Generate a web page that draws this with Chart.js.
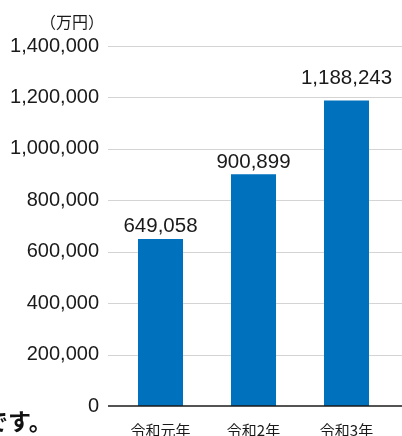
<!DOCTYPE html>
<html lang="ja">
<head>
<meta charset="utf-8">
<title>令和元年〜令和3年</title>
<script src="https://cdn.jsdelivr.net/npm/chart.js@4"></script>
<style>
    html, body { margin: 0; padding: 0; background: #fff; overflow: hidden; }
    #wrap { position: relative; width: 402px; height: 436px; }
    #unit {
        position: absolute; left: 40px; top: 9px;
        font: 16px "Noto Sans CJK JP", sans-serif; color: #1a1a1a;
    }
    #tail {
        position: absolute; left: -15px; top: 403px;
        font: bold 23px "Noto Sans CJK JP", sans-serif; color: #111;
        white-space: nowrap;
    }
</style>
</head>
<body>
<div id="wrap">
    <canvas id="chart" width="402" height="436"></canvas>
    <div id="unit">（万円）</div>
    <div id="tail">です。</div>
</div>
<script>
// data
var years = ['令和元年', '令和2年', '令和3年'];
var amounts = [649058, 900899, 1188243];
var yTicks = [0, 200000, 400000, 600000, 800000, 1000000, 1200000, 1400000];

// label gap above each bar (px)
var labelGap = [7, 6, 16];

var fmt = function (v) { return Number(v).toLocaleString('en-US'); };

var frame = {
    id: 'frame',
    beforeDatasetsDraw(chart) {
        let ctx = chart.ctx, y = chart.scales.y;
        ctx.save();
        ctx.strokeStyle = '#d4d4d4';
        ctx.lineWidth = 1;
        yTicks.forEach((t) => {
            if (t === 0) return;
            let py = Math.round(y.getPixelForValue(t)) + 0.5;
            ctx.beginPath();
            ctx.moveTo(108, py);
            ctx.lineTo(chart.width, py);
            ctx.stroke();
        });
        ctx.restore();
    },
    afterDatasetsDraw(chart) {
        let ctx = chart.ctx, y = chart.scales.y;
        ctx.save();
        // baseline
        let py = y.getPixelForValue(0);
        ctx.strokeStyle = '#1a1a1a';
        ctx.lineWidth = 1.5;
        ctx.beginPath();
        ctx.moveTo(108, py);
        ctx.lineTo(chart.width, py);
        ctx.stroke();
        // value labels
        ctx.fillStyle = '#1a1a1a';
        ctx.font = '20.5px "Liberation Sans", sans-serif';
        ctx.textAlign = 'center';
        ctx.textBaseline = 'alphabetic';
        chart.getDatasetMeta(0).data.forEach((bar, i) => {
            ctx.fillText(fmt(amounts[i]), bar.x, bar.y - labelGap[i]);
        });
        ctx.restore();
    }
};

new Chart(document.getElementById('chart'), {
    type: 'bar',
    data: {
        labels: years,
        datasets: [{
            data: amounts,
            backgroundColor: '#0071bc',
            borderWidth: 0,
            categoryPercentage: 1,
            barPercentage: 0.484
        }]
    },
    options: {
        responsive: false,
        animation: false,
        layout: { padding: { left: 0, right: 9, top: 46, bottom: 0 } },
        plugins: { legend: { display: false }, tooltip: { enabled: false } },
        scales: {
            x: {
                grid: { display: false, drawTicks: false },
                border: { display: false },
                ticks: {
                    padding: 15,
                    color: '#1a1a1a',
                    font: { family: '"Noto Sans CJK JP", sans-serif', size: 15 },
                    maxRotation: 0
                },
                afterFit(scale) { scale.height = 30; }
            },
            y: {
                min: 0,
                max: 1400000,
                grid: { display: false, drawTicks: false },
                border: { display: false },
                afterBuildTicks(scale) { scale.ticks = yTicks.map((v) => ({ value: v })); },
                ticks: {
                    padding: 15,
                    color: '#1a1a1a',
                    font: { family: '"Liberation Sans", sans-serif', size: 20 },
                    callback: (v) => fmt(v)
                },
                afterFit(scale) { scale.width = 114; }
            }
        }
    },
    plugins: [frame]
});
</script>
</body>
</html>
